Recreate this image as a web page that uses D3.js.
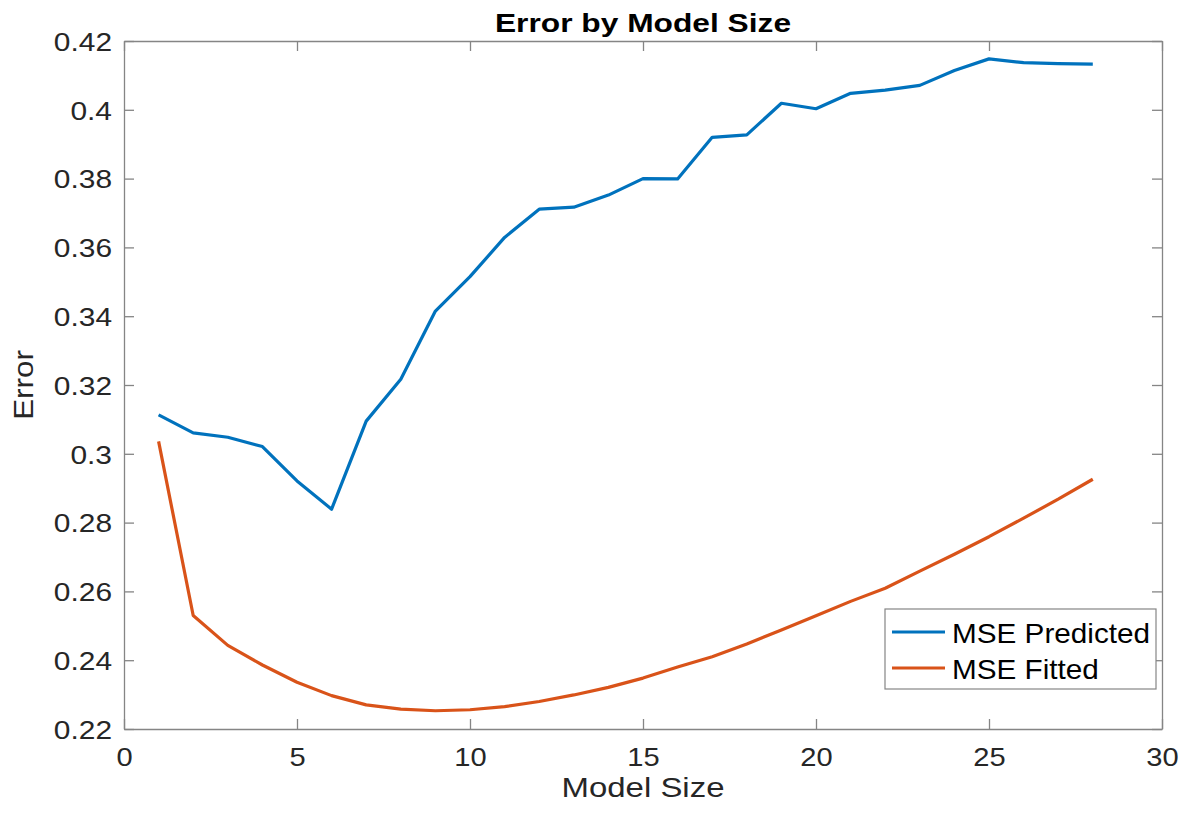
<!DOCTYPE html>
<html>
<head>
<meta charset="utf-8">
<script src="https://cdn.jsdelivr.net/npm/d3@7"></script>
<style>
  html, body { margin: 0; padding: 0; background: #ffffff; }
  svg { display: block; }
  text { font-family: "Liberation Sans", Arial, Helvetica, sans-serif; }
</style>
</head>
<body>
<svg id="chart" width="1179" height="814"></svg>
<script>
// Model sizes on the x axis
const modelSize = [1, 2, 3, 4, 5, 6, 7, 8, 9, 10, 11, 12, 13, 14,
                   15, 16, 17, 18, 19, 20, 21, 22, 23, 24, 25, 26, 27, 28];

// Out-of-sample error for each model size
const msePredicted = [0.3113, 0.3061, 0.3048, 0.3021, 0.2921, 0.2839, 0.3095,
                      0.3217, 0.3415, 0.3515, 0.3629, 0.3711, 0.3717, 0.3752,
                      0.3800, 0.3799, 0.3920, 0.3927, 0.4019, 0.4003, 0.4048,
                      0.4057, 0.4071, 0.4114, 0.4148, 0.4137, 0.4134, 0.4133];

// In-sample (fitted) error for each model size
const mseFitted = [0.3036, 0.2530, 0.2443, 0.2386, 0.2336, 0.2297, 0.2270,
                   0.2258, 0.2253, 0.2256, 0.2265, 0.2280, 0.2299, 0.2321,
                   0.2348, 0.2380, 0.2410, 0.2447, 0.2488, 0.2529, 0.2571,
                   0.2609, 0.2659, 0.2708, 0.2759, 0.2813, 0.2868, 0.2926];

const xTicks = [0, 5, 10, 15, 20, 25, 30];
const yTicks = [0.22, 0.24, 0.26, 0.28, 0.30, 0.32, 0.34, 0.36, 0.38, 0.40, 0.42];

const seriesNames = ["MSE Predicted", "MSE Fitted"];
const seriesColors = ["#0072BD", "#D95319"];

const titleText = "Error by Model Size";
const xLabelText = "Model Size";
const yLabelText = "Error";

// ---- layout ----
const plotLeft = 124, plotRight = 1162, plotTop = 41, plotBottom = 729;
const axisColor = "#858585";
const textColor = "#262626";

const svg = d3.select("#chart");

const x = d3.scaleLinear().domain([0, 30]).range([plotLeft, plotRight]);
const y = d3.scaleLinear().domain([0.22, 0.42]).range([plotBottom, plotTop]);

const fmtY = d => d3.format(".2~f")(d);

function styleAxis(g) {
  g.selectAll(".domain").attr("stroke", axisColor).attr("stroke-width", 1.3);
  g.selectAll(".tick line").attr("stroke", axisColor).attr("stroke-width", 1.3);
}

// bottom axis with labels
const gx = svg.append("g")
  .attr("transform", `translate(0,${plotBottom})`)
  .call(d3.axisBottom(x).tickValues(xTicks).tickSizeInner(-10).tickSizeOuter(0).tickPadding(19));
styleAxis(gx);
gx.selectAll(".tick text")
  .attr("fill", textColor)
  .style("font-size", "26px")
  .attr("transform", "scale(1.12,1)");

// top axis (ticks only)
const gxTop = svg.append("g")
  .attr("transform", `translate(0,${plotTop})`)
  .call(d3.axisTop(x).tickValues(xTicks).tickSizeInner(-10).tickSizeOuter(0).tickFormat(""));
styleAxis(gxTop);

// left axis with labels
const gy = svg.append("g")
  .attr("transform", `translate(${plotLeft},0)`)
  .call(d3.axisLeft(y).tickValues(yTicks).tickSizeInner(-10).tickSizeOuter(0).tickFormat(fmtY));
styleAxis(gy);
gy.selectAll(".tick text")
  .attr("fill", textColor)
  .style("font-size", "26px")
  .attr("x", 0)
  .attr("dy", "0.36em")
  .attr("transform", "translate(-12,0) scale(1.15,1)");

// right axis (ticks only)
const gyRight = svg.append("g")
  .attr("transform", `translate(${plotRight},0)`)
  .call(d3.axisRight(y).tickValues(yTicks).tickSizeInner(-10).tickSizeOuter(0).tickFormat(""));
styleAxis(gyRight);

// ---- series lines ----
const line = d3.line()
  .x((d, i) => x(modelSize[i]))
  .y(d => y(d));

[msePredicted, mseFitted].forEach((vals, k) => {
  svg.append("path")
    .datum(vals)
    .attr("fill", "none")
    .attr("stroke", seriesColors[k])
    .attr("stroke-width", 3.2)
    .attr("stroke-linejoin", "round")
    .attr("stroke-linecap", "butt")
    .attr("d", line);
});

// ---- title and axis labels ----
svg.append("text")
  .attr("transform", `translate(${(plotLeft + plotRight) / 2},32) scale(1.22,1)`)
  .attr("text-anchor", "middle")
  .attr("fill", "#000000")
  .style("font-size", "26px")
  .style("font-weight", "bold")
  .text(titleText);

svg.append("text")
  .attr("transform", `translate(${(plotLeft + plotRight) / 2},797) scale(1.22,1)`)
  .attr("text-anchor", "middle")
  .attr("fill", textColor)
  .style("font-size", "27px")
  .text(xLabelText);

svg.append("text")
  .attr("transform", `translate(33,${(plotTop + plotBottom) / 2}) rotate(-90) scale(1.12,1)`)
  .attr("text-anchor", "middle")
  .attr("fill", textColor)
  .style("font-size", "28px")
  .text(yLabelText);

// ---- legend ----
const legend = svg.append("g").attr("transform", "translate(885,609)");
legend.append("rect")
  .attr("x", 0).attr("y", 0)
  .attr("width", 271).attr("height", 80)
  .attr("fill", "#ffffff")
  .attr("stroke", axisColor)
  .attr("stroke-width", 1.2);

seriesNames.forEach((name, k) => {
  const cy = 23 + k * 36;
  legend.append("line")
    .attr("x1", 7).attr("x2", 60)
    .attr("y1", cy).attr("y2", cy)
    .attr("stroke", seriesColors[k])
    .attr("stroke-width", 3.2);
  legend.append("text")
    .attr("transform", `translate(67,${cy + 11}) scale(1.1,1)`)
    .attr("fill", "#000000")
    .style("font-size", "27px")
    .text(name);
});
</script>
</body>
</html>
